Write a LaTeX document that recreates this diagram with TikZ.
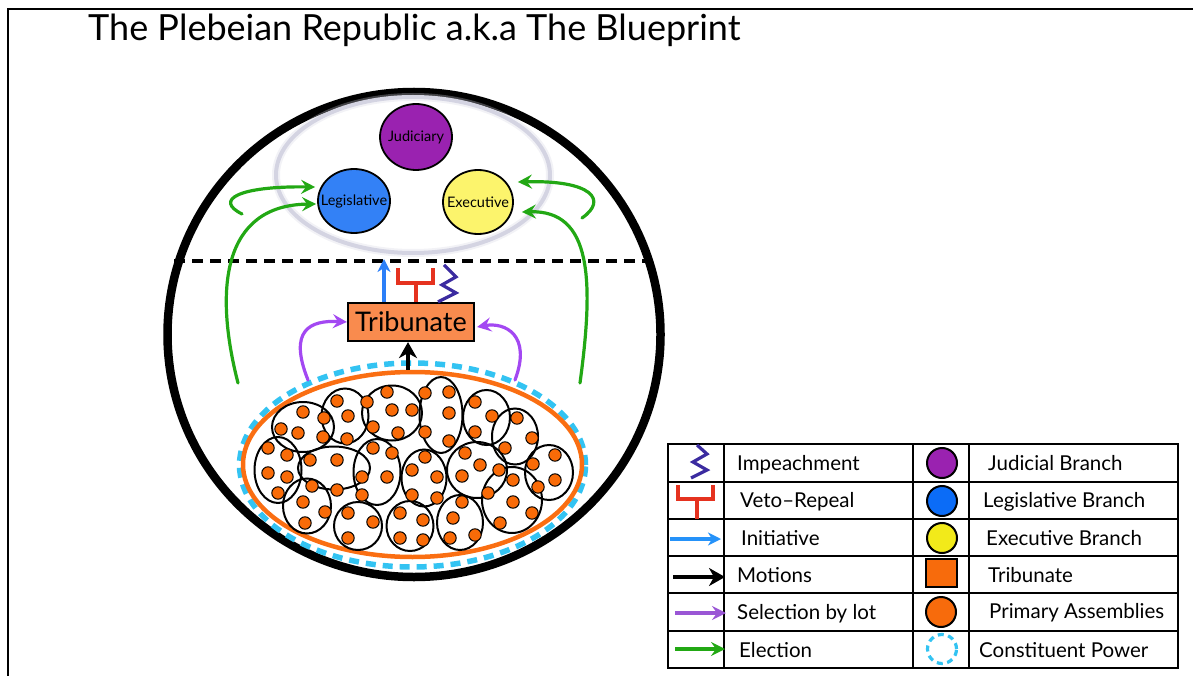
\documentclass[tikz,border=0pt]{standalone}
\usepackage{fontspec}
\setmainfont{Lato}
\usetikzlibrary{arrows.meta,shapes.geometric,calc}

% palette
\definecolor{judpurple}{HTML}{9A22B0}
\definecolor{legblue}{HTML}{3381F6}
\definecolor{exeyellow}{HTML}{FCF46C}
\definecolor{keyblue}{HTML}{0B6CF7}
\definecolor{keyyellow}{HTML}{F2EA1A}
\definecolor{tribfill}{HTML}{F98B4E}
\definecolor{keyorange}{HTML}{F76B0C}
\definecolor{dotorange}{HTML}{F96B08}
\definecolor{rimorange}{HTML}{FA6E12}
\definecolor{constcyan}{HTML}{33C3F2}
\definecolor{elecgreen}{HTML}{22A814}
\definecolor{lotpurple}{HTML}{A348F2}
\definecolor{initblue}{HTML}{2B7FF8}
\definecolor{vetored}{HTML}{E5321F}
\definecolor{impindigo}{HTML}{3B2BA0}
\definecolor{haze}{HTML}{D4D4E2}

\begin{document}
\begin{tikzpicture}[x=1pt,y=-1pt,
  branch/.style={ellipse, draw=black, line width=1.8pt, inner sep=0pt,
    minimum width=72pt, minimum height=64pt,
    label={[font=\fontsize{14.5}{15}\selectfont, inner sep=0pt]center:#1}},
  tribbox/.style={rectangle, draw=black, line width=2.2pt, fill=tribfill, inner sep=0pt,
    minimum width=126pt, minimum height=38pt, font=\fontsize{27}{29}\selectfont},
  elect/.style={draw=elecgreen, line width=3.2pt, line cap=round,
    -{Stealth[length=14pt,width=14pt,inset=5pt]}},
  lotarrow/.style={draw=lotpurple, line width=3.2pt, line cap=round,
    -{Stealth[length=14pt,width=14pt,inset=5pt]}},
  initarrow/.style={draw=initblue, line width=3.2pt,
    -{Stealth[length=13pt,width=13pt,inset=4pt]}},
  motion/.style={draw=black, line width=4pt,
    -{Stealth[length=16pt,width=18pt,inset=5pt]}},
  vetomark/.style={draw=vetored, line width=3.2pt},
  impeach/.style={draw=impindigo, line width=3.2pt, line join=miter},
  cell/.style={draw=black, line width=2pt},
  dotmark/.style={fill=dotorange, draw=black, line width=1pt},
  legtext/.style={anchor=base west, inner sep=0pt, font=\fontsize{20.5}{22}\selectfont},
  keydisc/.style={circle, draw=black, line width=2pt, minimum size=30pt, inner sep=0pt},
]
\useasboundingbox (0,0) rectangle (1193,676);

% page frame
\draw[line width=2.8pt] (8,676) -- (8,9) -- (1193,9);

% title
\node[anchor=base west, inner sep=0pt, font=\fontsize{36}{40}\selectfont] (title)
  at (88,41) {The Plebeian Republic a.k.a The Blueprint};

% separation between the branches and the people
\draw[line width=4.2pt, dash pattern=on 11pt off 7pt] (174,261) -- (654,261);

% the republic
\node[ellipse, draw=black, line width=8.5pt, inner sep=0pt,
  minimum width=493pt, minimum height=485pt] (realm) at (414,334.5) {};

% ring around the three branches
\node[ellipse, draw=haze, line width=8pt, opacity=0.3, inner sep=0pt,
  minimum width=274pt, minimum height=156pt] (courtglow) at (413,175) {};
\node[ellipse, draw=haze, line width=4pt, inner sep=0pt,
  minimum width=274pt, minimum height=156pt] (court) at (413,175) {};

% branches
\node[branch=Judiciary, fill=judpurple, minimum height=66pt] (jud) at (416,137) {};
\node[branch=Legislative, fill=legblue] (leg) at (354,201) {};
\node[branch=Executive, fill=exeyellow, minimum width=70pt] (exe) at (478,202) {};

% tribunate
\node[tribbox] (trib) at (411,322) {Tribunate};

% constituent power and primary assemblies
\node[ellipse, draw=constcyan, line width=5.5pt, dash pattern=on 10pt off 7pt, inner sep=0pt,
  minimum width=346pt, minimum height=204pt] (const) at (412.5,465) {};
\node[ellipse, draw=rimorange, line width=4.5pt, inner sep=0pt,
  minimum width=339pt, minimum height=185pt] (asm) at (412.5,464.5) {};

\foreach \cx/\cy/\rx/\ry in {
  303/427/31/25, 345/416/23.5/27.5, 392/413/30/27.5, 441/415/21.5/38,
  486.5/417.5/23.5/27.5, 515/436.5/23/28, 278/470/23.5/33, 334/468/36/21.5,
  377/472/23.5/33, 424/478/22.5/28.5, 477/470/30/28, 512/500/30/33,
  549/472.5/24/27.5, 307/506/24/27.5, 358/526/24/24, 410/526/23.5/25,
  460/522.5/23/27.5}
  \draw[line width=2pt] (\cx,\cy) ellipse [x radius=\rx, y radius=\ry];

\foreach \dx/\dy in {
  303/412, 324/418, 281/429, 298/433, 323/437,
  337/401, 348/416, 347/439,
  387/392, 367/402, 392/410, 412/410, 373/427, 398/433,
  425/393, 449/392, 449/413, 425/432, 449/441,
  475/402, 492/416, 475/432,
  517/418, 532/438, 505/448,
  268/448, 287/455, 268/473, 287/477, 278/493,
  310/460, 337/460, 312/486, 337/490,
  373/448, 392/453, 387/477, 362/477, 362/495,
  425/457, 412/470, 437/477, 412/495, 437/498,
  465/453, 480/465, 462/476, 499/470, 488/493,
  513/480, 513/502, 532/513, 500/523,
  555/455, 533/464, 555/480, 538/487,
  303/502, 325/512, 305/523,
  348/513, 373/522, 348/538,
  400/513, 423/520, 400/538, 423/540,
  462/502, 453/518, 475/535, 450/538}
  \filldraw[dotmark] (\dx,\dy) circle [radius=6.2];

% connectors
\coordinate (elecLhook) at (242,214);
\coordinate (elecLlong) at (238,383);
\coordinate (elecRhook) at (582,218);
\coordinate (elecRlong) at (580,383);
\draw[elect] (elecLhook) .. controls (214,200) and (238,186) .. ($(leg.west)+(-2,-14)$);
\draw[elect] (elecLlong) .. controls (214,290) and (222,205) .. ($(leg.west)+(-1,3)$);
\draw[elect] (elecRhook) .. controls (608,200) and (592,180) .. ($(exe.east)+(4,-20)$);
\draw[elect] (elecRlong) .. controls (594,280) and (592,210) .. ($(exe.east)+(8,10)$);

\coordinate (lotL) at (308,380);
\coordinate (lotR) at (515,380);
\draw[lotarrow] (lotL) .. controls (288,330) and (310,320) .. (trib.west);
\draw[lotarrow] (lotR) .. controls (532,335) and (505,322) .. ($(trib.east)+(2,5)$);

\draw[motion] (asm.north -| 408,0) -- (trib.south -| 408,0);

\coordinate (initTop) at (384,259);
\draw[initarrow] (trib.north -| initTop) -- (initTop);

\draw[vetomark] ($(trib.north)+(5,0)$) -- ++(0,-19);
\draw[vetomark] (398,268) -- (398,283) -- (433,283) -- (433,268);

\draw[impeach] ($(trib.north)+(27,0)$) -- ++(18,-9) -- ++(-14,-8) -- ++(14,-8) -- ++(-12,-12);

% key
\draw[cell] (668,444) rectangle (1178,668);
\foreach \ry in {482,519,556,593,631}
  \draw[cell] (668,\ry) -- (1178,\ry);
\foreach \cx in {724,913,969}
  \draw[cell] (\cx,444) -- (\cx,668);

\draw[impeach] (691,478) -- ++(16,-8) -- ++(-14,-8) -- ++(14,-8) -- ++(-10,-9);
\draw[vetomark] (697,519) -- (697,499);
\draw[vetomark] (678,485) -- (678,499) -- (713,499) -- (713,485);

\coordinate (keyInitA) at (670,539);  \coordinate (keyInitB) at (721,539);
\coordinate (keyMotA) at (673,577);   \coordinate (keyMotB) at (725,577);
\coordinate (keyLotA) at (675,613);   \coordinate (keyLotB) at (726,613);
\coordinate (keyElecA) at (675,649);  \coordinate (keyElecB) at (725,649);
\draw[initarrow, draw=initblue!85!cyan] (keyInitA) -- (keyInitB);
\draw[motion, line width=3.4pt] (keyMotA) -- (keyMotB);
\draw[lotarrow, draw=lotpurple!75!gray, line cap=butt] (keyLotA) -- (keyLotB);
\draw[elect, line cap=butt] (keyElecA) -- (keyElecB);

\node[legtext] (kImp)  at (737,470)   {Impeachment};
\node[legtext] (kVeto) at (740,507.5) {Veto–Repeal};
\node[legtext] (kInit) at (741,545)   {Initiative};
\node[legtext] (kMot)  at (737,582.5) {Motions};
\node[legtext] (kLot)  at (737,619.5) {Selection by lot};
\node[legtext] (kElec) at (739,657)   {Election};

\node[keydisc, fill=judpurple] (kJudDisc) at (942,463) {};
\node[keydisc, fill=keyblue] (kLegDisc) at (942,501) {};
\node[keydisc, fill=keyyellow] (kExeDisc) at (942,538) {};
\node[rectangle, draw=black, line width=2pt, fill=keyorange, inner sep=0pt,
  minimum width=31pt, minimum height=28pt] (kTribSq) at (941,573) {};
\node[keydisc, fill=keyorange] (kAsmDisc) at (941,612) {};
\node[circle, draw=constcyan, line width=3.2pt, dash pattern=on 6pt off 4.5pt,
  minimum size=29pt, inner sep=0pt] (kConstDisc) at (942,649) {};

\node[legtext] (kJud)   at (988,470)   {Judicial Branch};
\node[legtext] (kLeg)   at (983,507.5) {Legislative Branch};
\node[legtext] (kExe)   at (986,545)   {Executive Branch};
\node[legtext] (kTrib)  at (988,582)   {Tribunate};
\node[legtext] (kAsm)   at (989,618.5) {Primary Assemblies};
\node[legtext] (kConst) at (979,657)   {Constituent Power};

\end{tikzpicture}
\end{document}
